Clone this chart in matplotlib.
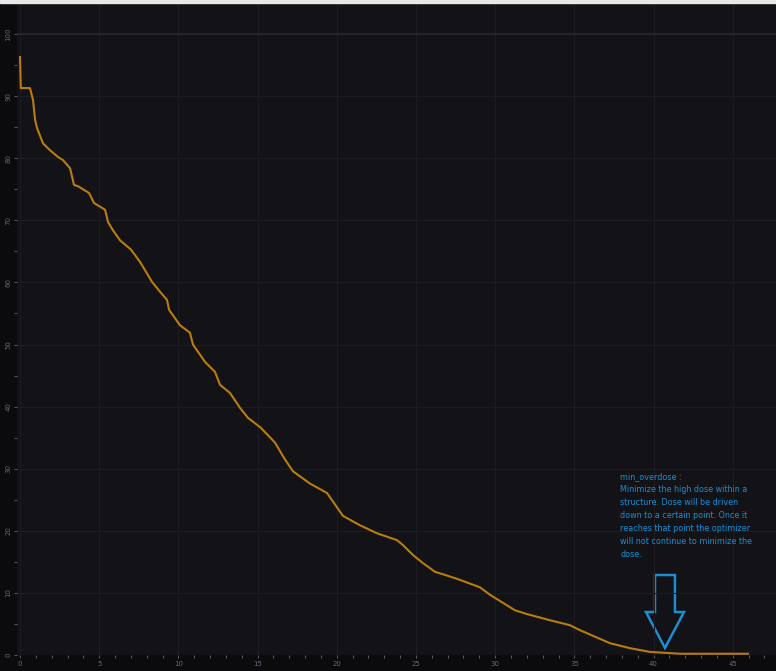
import matplotlib
matplotlib.use("Agg")
import matplotlib.pyplot as plt
from matplotlib.patches import Polygon, Rectangle
from matplotlib.ticker import MultipleLocator

# DVH curve (dose vs. volume %)
dose = [0.0, 0.05, 0.63, 0.82, 0.95, 1.07, 1.45, 1.89, 2.4, 2.71, 3.16, 3.41, 3.66,
        4.36, 4.67, 5.37, 5.56, 5.87, 6.31, 7.0, 7.58, 8.33, 8.84, 9.28, 9.41, 10.1,
        10.73, 10.92, 11.68, 12.31, 12.63, 13.26, 13.89, 14.39, 15.2, 16.1, 16.7,
        17.23, 18.31, 19.38, 20.39, 21.46, 22.54, 23.8, 24.18, 24.81, 25.44, 26.2,
        26.83, 27.78, 29.04, 29.67, 31.25, 32.0, 33.46, 34.72, 35.35, 37.25, 38.51,
        39.77, 41.67, 45.96]
volume = [96.3, 91.3, 91.3, 89.4, 86.2, 84.9, 82.4, 81.3, 80.2, 79.7, 78.4, 75.7, 75.5,
          74.4, 72.8, 71.7, 69.7, 68.4, 66.8, 65.3, 63.3, 60.1, 58.5, 57.2, 55.6, 53.1,
          51.9, 50.0, 47.2, 45.6, 43.5, 42.2, 39.8, 38.2, 36.6, 34.2, 31.6,
          29.6, 27.6, 26.1, 22.4, 20.9, 19.6, 18.5, 17.7, 16.1, 14.8, 13.4,
          12.9, 12.1, 10.9, 9.7, 7.2, 6.6, 5.6, 4.8, 4.0, 1.9, 1.1,
          0.5, 0.2, 0.2]

note = ("min_overdose :\n"
        "Minimize the high dose within a\n"
        "structure. Dose will be driven\n"
        "down to a certain point. Once it\n"
        "reaches that point the optimizer\n"
        "will not continue to minimize the\n"
        "dose.")

BG = "#121217"
GRID = "#1c1c22"
TICK = "#5d6a7a"
LINE = "#b97d0e"
BLUE = "#1b8fd2"

fig = plt.figure(figsize=(7.76, 6.71), dpi=100, facecolor="#0b0b0e")
ax = fig.add_axes([17 / 776, 16 / 671, 759 / 776, 652 / 671])
ax.set_facecolor(BG)

ax.plot(dose, volume, color=LINE, lw=1.5, solid_joinstyle="round")

ax.set_xlim(-0.19, 47.73)
ax.set_ylim(0, 105)
ax.xaxis.set_major_locator(MultipleLocator(5))
ax.xaxis.set_minor_locator(MultipleLocator(1))
ax.yaxis.set_major_locator(MultipleLocator(10))
ax.yaxis.set_minor_locator(MultipleLocator(5))
ax.grid(True, which="major", color=GRID, lw=0.8)
ax.axhline(100, color="#28282e", lw=1.2)

for s in ax.spines.values():
    s.set_visible(False)
ax.tick_params(which="both", colors=TICK, labelsize=5, length=2, width=0.6, pad=2)
ax.tick_params(which="minor", length=2)
for lbl in ax.get_yticklabels():
    lbl.set_rotation(90)
    lbl.set_va("center")

# annotation block
ax.text(37.9, 29.4, note, color=BLUE, fontsize=5.8, va="top", ha="left",
        linespacing=1.55)
arrow = [(40.09, 12.88), (41.35, 12.88), (41.35, 6.92), (41.92, 6.92),
         (40.72, 1.13), (39.52, 6.92), (40.09, 6.92)]
ax.add_patch(Polygon(arrow, closed=True, fill=False, ec=BLUE, lw=1.8,
                     joinstyle="miter"))

fig.patches.append(Rectangle((0, 668 / 671), 1, 3 / 671, transform=fig.transFigure,
                             color="#e8e8e8", zorder=5))

fig.savefig("out.png", dpi=100, facecolor=fig.get_facecolor())
